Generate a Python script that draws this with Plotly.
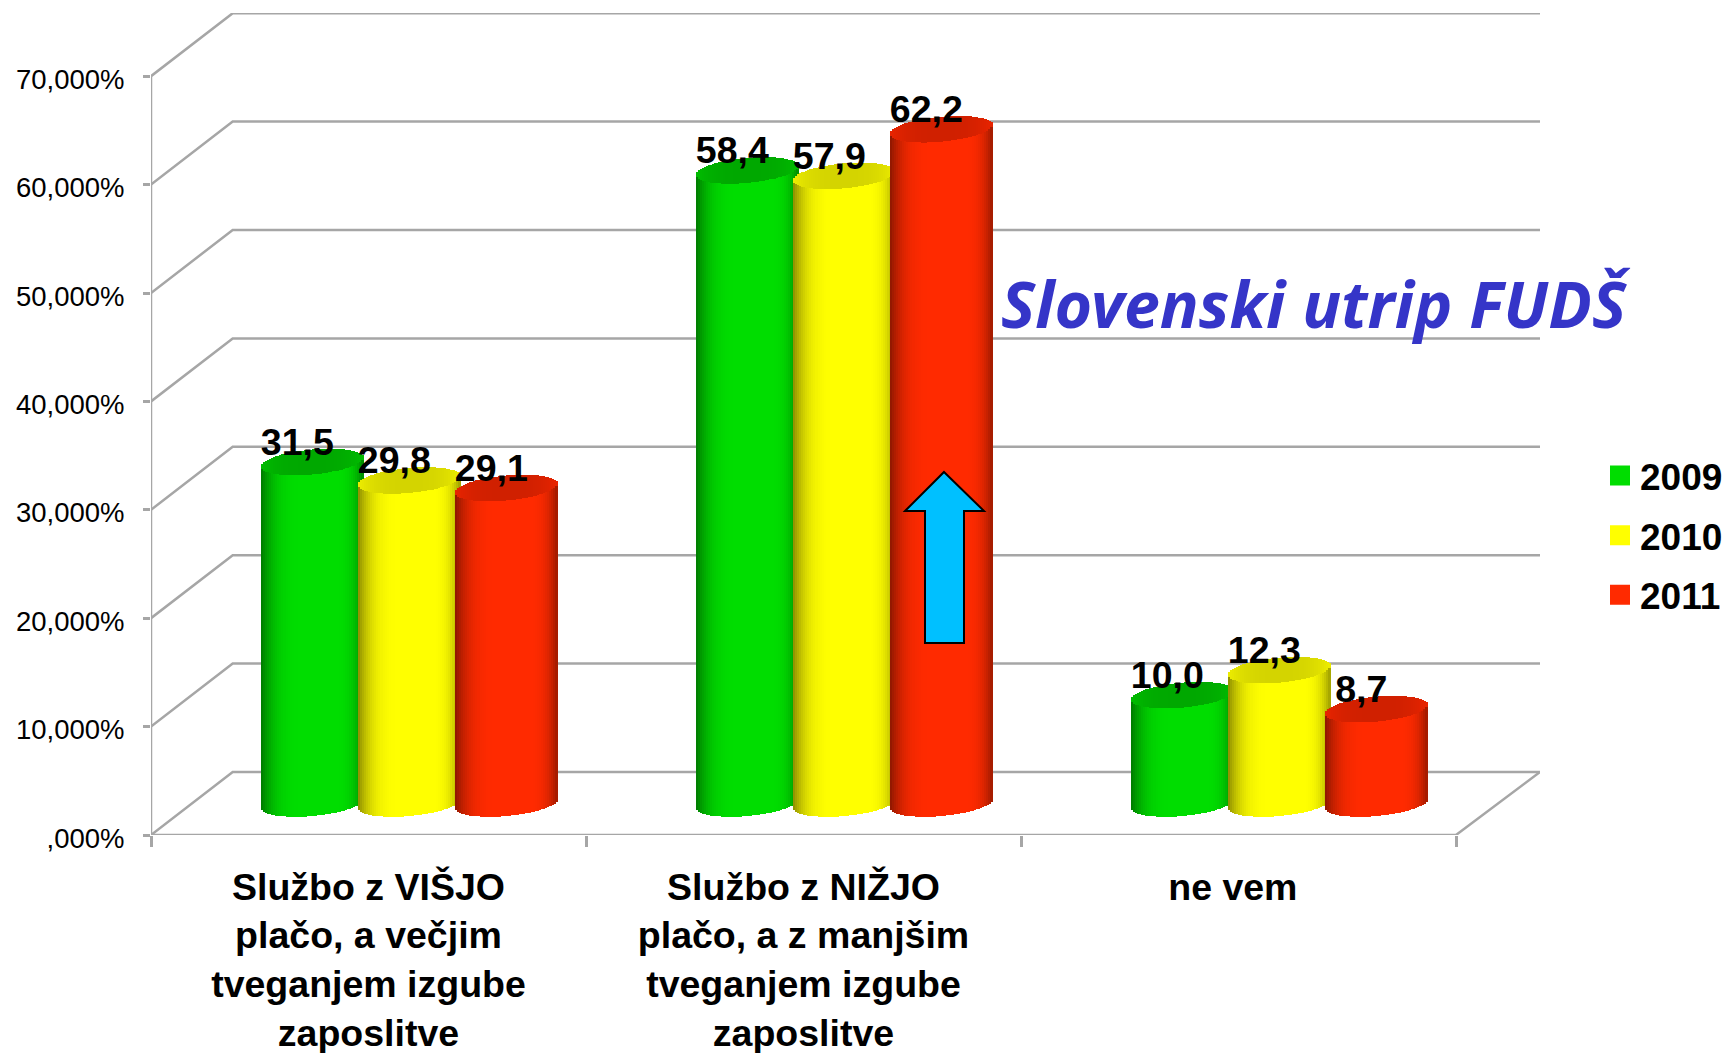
import math
import plotly.graph_objects as go

# ---- data ----
categories = ["Službo z VIŠJO<br>plačo, a večjim<br>tveganjem izgube<br>zaposlitve",
              "Službo z NIŽJO<br>plačo, a z manjšim<br>tveganjem izgube<br>zaposlitve",
              "ne vem"]
years = ["2009", "2010", "2011"]
v2009 = [31.5, 58.4, 10.0]
v2010 = [29.8, 57.9, 12.3]
v2011 = [29.1, 62.2, 8.7]
y_ticks = [0, 10, 20, 30, 40, 50, 60, 70]
y_tick_labels = [",000%", "10,000%", "20,000%", "30,000%", "40,000%", "50,000%", "60,000%", "70,000%"]
title_text = "Slovenski utrip FUDŠ"

# ---- geometry (pixels of the page) ----
W, H = 1728, 1053
L, R, T, B = 151, 1540, 13, 835
PX = 435.0    # px per category
PY = 10.84    # px per value unit
DX, DY = 81.7 / PX, 63 / PY      # depth of the wall
XMIN = -0.5
XMAX = XMIN + (R - L) / PX
YMAX = (B - T) / PY
X_RIGHT = 2.5
BASE = DY / 2          # cylinders stand in the middle of the floor
GAP = 97 / PX
A = 51.0               # ellipse half width, px
E = 12.5               # ellipse half height, px
K = 4.5                # ellipse tilt, px
N = 50

main = [(0, 221, 0), (255, 255, 0), (255, 42, 0)]
cap = [(0, 168, 0), (212, 212, 0), (208, 32, 0)]
GRID = "#A6A6A6"
FONT = "Liberation Sans, Arial, sans-serif"


def shade(u):
    if u < -0.15:
        t = (u + 1) / 0.85
        return 0.55 + 0.45 * (1 - (1 - t) ** 3)
    if u > 0.4:
        t = (1 - u) / 0.6
        return 0.62 + 0.38 * (1 - (1 - t) ** 3)
    return 1.0


def rgb(c, f):
    return "rgb(%d,%d,%d)" % tuple(min(255, round(p * f)) for p in c)


fig = go.Figure()
series = [v2009, v2010, v2011]
strip_w = (2 * A / N + 0.6) / PX

for s, vals in enumerate(series):
    xs, ys, bases, colors = [], [], [], []
    offs = 0.5 * DX + (s - 1) * GAP
    us = [-1 + (i + 0.5) * 2 / N for i in range(N)]
    for c, v in enumerate(vals):
        cx = c + offs
        for u in us:
            root = math.sqrt(1 - u * u)
            low = (K * u - E * root) / PY
            # cylinder body: its height is exactly the value
            xs.append(cx + u * A / PX)
            ys.append(v)
            bases.append(BASE + low)
            colors.append(rgb(main[s], shade(u)))
            # top cap
            xs.append(cx + u * A / PX)
            ys.append(2 * E * root / PY)
            bases.append(BASE + v + low)
            colors.append(rgb(cap[s], 1 + 0.12 * abs(u) ** 3))
    fig.add_trace(go.Bar(x=xs, y=ys, base=bases, width=[strip_w] * len(xs),
                         marker=dict(color=colors, line=dict(width=0)),
                         name=years[s], showlegend=False, hoverinfo="skip"))

# data labels
lab_x, lab_y, lab_t = [], [], []
for s, vals in enumerate(series):
    for c, v in enumerate(vals):
        lab_x.append(c + 0.5 * DX + (s - 1) * GAP - 15 / PX)
        lab_y.append(BASE + v + 16.5 / PY)
        lab_t.append(("%.1f" % v).replace(".", ","))
fig.add_trace(go.Scatter(x=lab_x, y=lab_y, text=lab_t, mode="text", showlegend=False,
                         textposition="middle center", hoverinfo="skip",
                         textfont=dict(family=FONT, size=37.5, color="black", weight="bold")))

# legend entries
for s, name in enumerate(years):
    col = rgb(main[s], 1)
    fig.add_trace(go.Scatter(x=[None], y=[None], mode="markers", name=name, legendgroup=name,
                             marker=dict(symbol="square", size=16, color=col,
                                         line=dict(width=4, color=col))))

# walls
shapes = []
line = dict(color=GRID, width=2.5)
for v in y_ticks:
    shapes.append(dict(type="path", layer="below", xref="x", yref="y", line=line,
                       path=f"M{XMIN},{v} L{XMIN + DX},{v + DY} L{XMAX},{v + DY}"))
shapes.append(dict(type="path", layer="below", xref="x", yref="y", line=line,
                   path=f"M{XMIN},0 L{XMIN},{y_ticks[-1]}"))
shapes.append(dict(type="path", layer="below", xref="x", yref="y", line=line,
                   path=f"M{XMIN},0 L{X_RIGHT},0 L{XMAX},{DY}"))


# blue arrow, given in page pixels
def ax(px):
    return XMIN + (px - L) / PX


def ay(py):
    return (B - py) / PY


arrow = [(944, 472), (984, 511), (964, 511), (964, 643), (925, 643), (925, 511), (905, 511)]
path = "M" + " L".join(f"{ax(a)},{ay(b)}" for a, b in arrow) + " Z"
shapes.append(dict(type="path", layer="above", xref="x", yref="y", path=path,
                   fillcolor="#00C0FF", line=dict(color="black", width=2)))

fig.update_layout(
    width=W, height=H, autosize=False,
    paper_bgcolor="white", plot_bgcolor="white",
    barmode="overlay", bargap=0,
    margin=dict(l=L, r=W - R, t=T, b=H - B, autoexpand=False, pad=0),
    shapes=shapes,
    showlegend=True,
    legend=dict(x=(1600 - L) / (R - L), xanchor="left", y=(B - 445) / (B - T), yanchor="top",
                font=dict(family=FONT, size=37, color="black", weight="bold"),
                tracegroupgap=8.5, bgcolor="rgba(0,0,0,0)", borderwidth=0),
    annotations=[dict(text=title_text, xref="paper", yref="paper",
                      x=(1316 - L) / (R - L), y=(B - 303) / (B - T),
                      xanchor="center", yanchor="middle", showarrow=False,
                      font=dict(family="Noto Sans, sans-serif", size=64.5, color="#3535C8",
                                weight="bold", style="italic"))],
)
fig.update_xaxes(range=[XMIN, XMAX], showgrid=False, zeroline=False, showline=False,
                 tickmode="array", tickvals=[0, 1, 1.987], ticktext=categories,
                 ticks="", ticklabelstandoff=26, tickangle=0,
                 tickfont=dict(family=FONT, size=37.5, color="black", weight="bold"),
                 minor=dict(tickmode="array", tickvals=[-0.5, 0.5, 1.5, 2.5], ticks="outside",
                            ticklen=11, tickwidth=2.5, tickcolor=GRID, showgrid=False))
fig.update_yaxes(range=[0, YMAX], showgrid=False, zeroline=False, showline=False,
                 tickmode="array", tickvals=y_ticks, ticktext=y_tick_labels,
                 ticks="outside", ticklen=7, tickwidth=2.5, tickcolor=GRID, ticklabelstandoff=13,
                 ticklabelshift=3,
                 tickfont=dict(family=FONT, size=27.5, color="black"))

fig.write_html("out.html", config=dict(displayModeBar=False),
               post_script="document.body.style.margin='0';")
